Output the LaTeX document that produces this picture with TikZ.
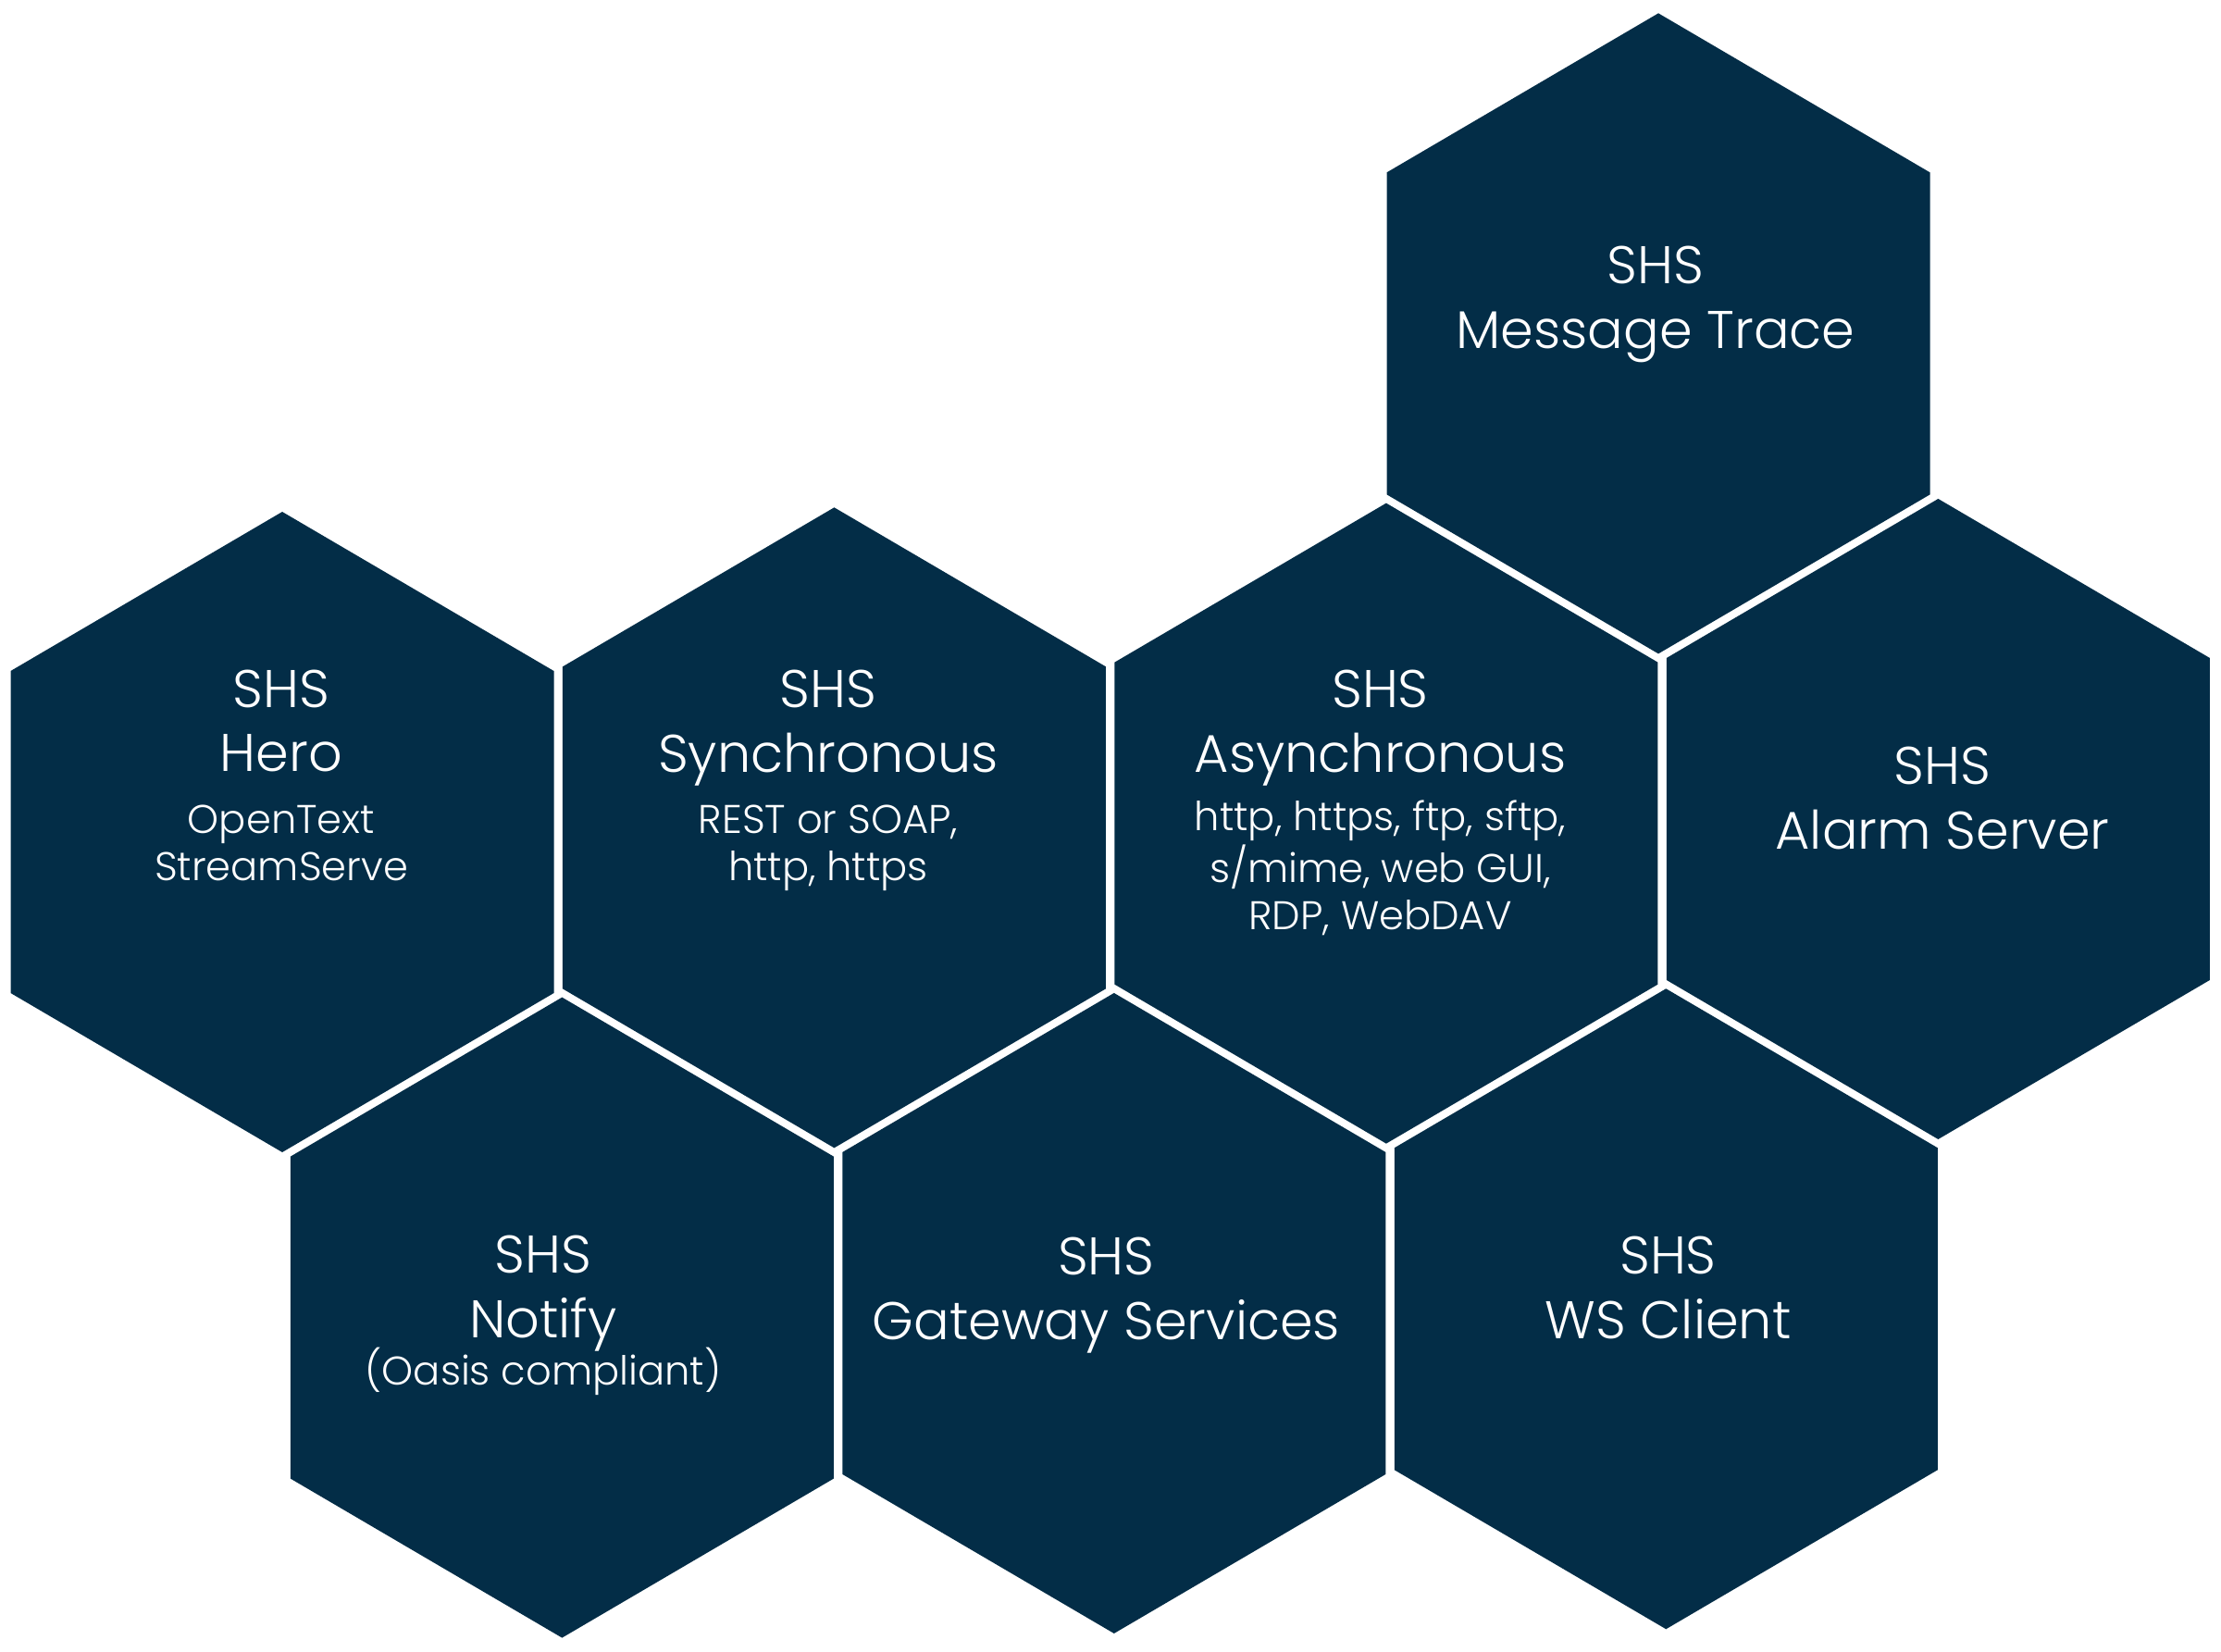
\documentclass[tikz,border=0pt]{standalone}
\usepackage{fontspec}
\setmainfont{Poppins}[UprightFont=* Light]
\usepackage{tikz}
\usetikzlibrary{positioning}
\definecolor{hexblue}{RGB}{3,45,71}

\begin{document}
\begin{tikzpicture}[
    hexcell/.pic={\fill[hexblue] (0,3.46) -- (-2.935,1.74) -- (-2.935,-1.74) -- (0,-3.46) -- (2.935,-1.74) -- (2.935,1.74) -- cycle;},
    hextitle/.style={text=white, align=center, anchor=base, inner sep=0pt, font=\fontsize{16.3}{19.85}\selectfont},
    hexnote/.style={text=white, align=center, anchor=base, inner sep=0pt, font=\fontsize{12.3}{14.65}\selectfont}
]
\useasboundingbox (0,0) rectangle (24,-17.85);
\begin{scope}[rotate around={0.45:(3.05,-8.99)}]
\pic at (3.05,-8.99) {hexcell};
\pic at (9.015,-8.99) {hexcell};
\pic at (14.98,-8.99) {hexcell};
\pic at (20.945,-8.99) {hexcell};
\pic at (17.9625,-3.72) {hexcell};
\pic at (6.0325,-14.26) {hexcell};
\pic at (11.9975,-14.26) {hexcell};
\pic at (17.9625,-14.26) {hexcell};
\end{scope}
\node[hextitle] (hero) at (3.04,-8.339) {SHS\\Hero};
\node[hextitle] (sync) at (8.95,-8.34) {SHS\\Synchronous};
\node[hextitle] (async) at (14.915,-8.345) {SHS\\Asynchronous};
\node[hextitle] (alarm) at (20.99,-9.17) {SHS\\Alarm Server};
\node[hextitle] (trace) at (17.89,-3.765) {SHS\\Message Trace};
\node[hextitle] (notify) at (5.87,-14.457) {SHS\\Notify};
\node[hextitle] (gateway) at (11.954,-14.475) {SHS\\Gateway Services};
\node[hextitle] (wsclient) at (18.025,-14.46) {SHS\\WS Client};
\node[hexnote, below=1.18cm of hero.base, anchor=base] (hero-note) {OpenText\\StreamServe};
\node[hexnote, below=1.175cm of sync.base, anchor=base] (sync-note) {REST or SOAP,\\http, https};
\node[hexnote, below=1.70cm of async.base, anchor=base] (async-note) {http, https, ftp, sftp,\\s/mime, web GUI,\\RDP, WebDAV};
\node[hexnote, below=0.503cm of notify.base, anchor=base] (notify-note) {(Oasis compliant)};
\end{tikzpicture}
\end{document}
